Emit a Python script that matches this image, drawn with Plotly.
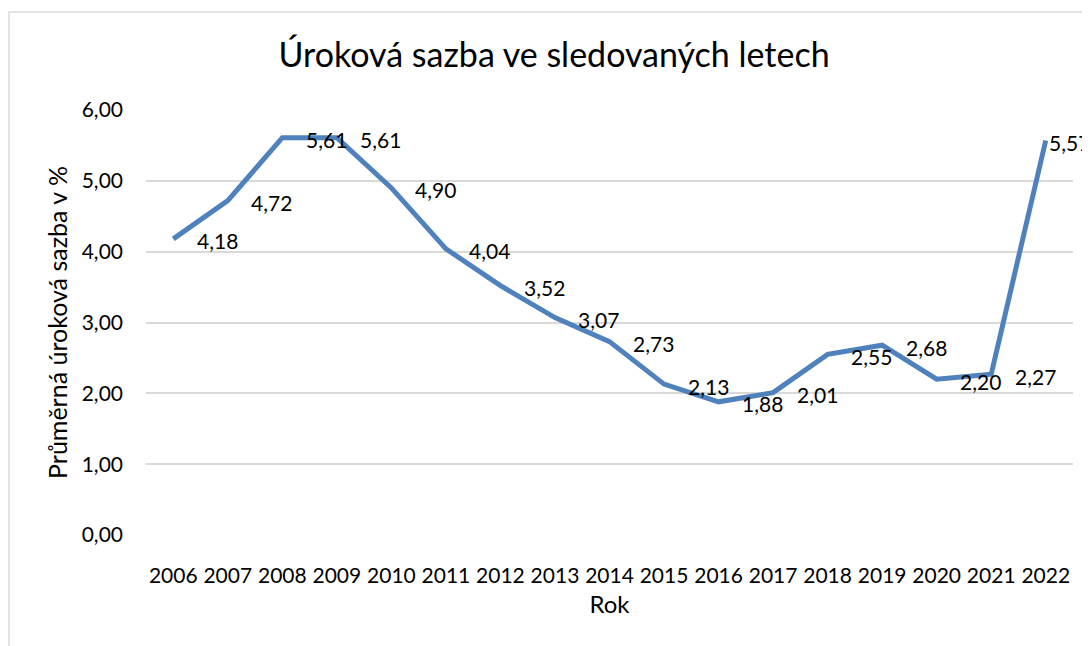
import plotly.graph_objects as go

years = ["2006", "2007", "2008", "2009", "2010", "2011", "2012", "2013", "2014",
         "2015", "2016", "2017", "2018", "2019", "2020", "2021", "2022"]
rates = [4.18, 4.72, 5.61, 5.61, 4.90, 4.04, 3.52, 3.07, 2.73,
         2.13, 1.88, 2.01, 2.55, 2.68, 2.20, 2.27, 5.57]
y_ticks = [0, 1, 2, 3, 4, 5, 6]

FONT = "Lato"
idx = list(range(len(years)))

fig = go.Figure()
fig.add_trace(go.Scatter(
    x=idx, y=rates, mode="lines",
    line=dict(color="#4F81BD", width=5),
    hoverinfo="skip", showlegend=False,
))

annotations = []
for i, v in zip(idx, rates):
    last = i == idx[-1]
    annotations.append(dict(
        x=i, y=v, xref="x", yref="y",
        text=f"{v:.2f}".replace(".", ","),
        showarrow=False, xshift=24 if last else 44, yshift=-2,
        font=dict(family=FONT, size=21, color="#000000"),
    ))

fig.update_layout(
    width=1090, height=646,
    margin=dict(l=138, r=25, t=102, b=119),
    paper_bgcolor="white", plot_bgcolor="white",
    font=dict(family=FONT, color="#000000"),
    title=dict(text="Úroková sazba ve sledovaných letech",
               font=dict(family=FONT, size=34, color="#000000"),
               x=0.501, xref="container", xanchor="center",
               y=1 - 47 / 646, yref="container", yanchor="middle"),
    annotations=annotations,
    shapes=[dict(type="rect", xref="paper", yref="paper",
                 x0=-0.1478, x1=1.2, y0=-0.5, y1=1.2306,
                 line=dict(color="#D9D9D9", width=1.5), fillcolor="rgba(0,0,0,0)",
                 layer="below")],
    xaxis=dict(
        range=[-0.5, 16.5], tickmode="array", tickvals=idx, ticktext=years,
        showgrid=False, zeroline=False, showline=False, ticks="",
        tickfont=dict(family=FONT, size=21, color="#000000"),
        ticklabelstandoff=26,
        title=dict(text="Rok", font=dict(family=FONT, size=24, color="#000000"), standoff=10),
        fixedrange=True,
    ),
    yaxis=dict(
        range=[0, 6], tickmode="array", tickvals=y_ticks,
        ticktext=[f"{t:.2f}".replace(".", ",") for t in y_ticks],
        showgrid=True, gridcolor="#D9D9D9", gridwidth=1.5,
        zeroline=False, showline=False, ticks="",
        tickfont=dict(family=FONT, size=21, color="#000000"),
        ticklabelstandoff=22,
        title=dict(text="Průměrná úroková sazba v %", font=dict(family=FONT, size=25, color="#000000"), standoff=6),
        fixedrange=True,
    ),
)

fig.write_html("out.html")
